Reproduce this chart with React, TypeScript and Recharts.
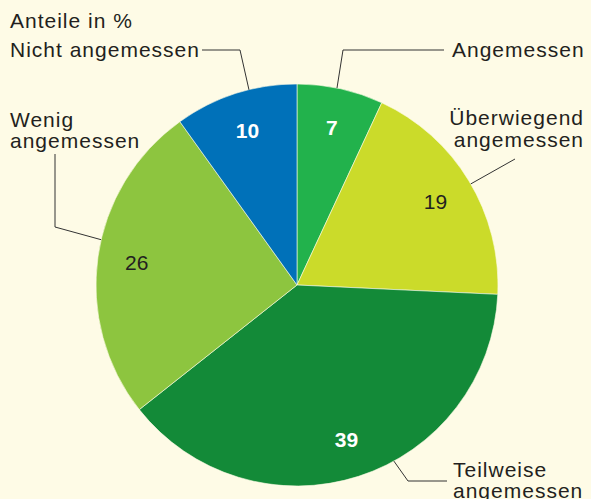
import { PieChart, Pie, Cell } from "recharts";

const categories = [
  "Angemessen",
  "Überwiegend angemessen",
  "Teilweise angemessen",
  "Wenig angemessen",
  "Nicht angemessen",
];
const shares = [7, 19, 39, 26, 10];

const sliceColors = ["#22b24c", "#cbdb2a", "#138a38", "#8dc53f", "#0071b9"];
const valueColors = ["#ffffff", "#231f20", "#ffffff", "#231f20", "#ffffff"];
const valueBold = [true, false, true, false, true];

const BG = "#fefbe6";
const INK = "#231f20";
const FONT = "'Liberation Sans', Arial, sans-serif";
const RAD = Math.PI / 180;

const data = categories.map((name, i) => ({ name, value: shares[i] }));

// leader line / caption layout for each category
type Layout = {
  nudge: number; // degrees, clockwise, where the leader meets the rim
  elbow?: [number, number];
  end: [number, number];
  x: number;
  y: number;
  anchor: "start" | "end";
  wrap: boolean;
  lh: number;
};

const layouts: Record<string, Layout> = {
  Angemessen: { nudge: -1, elbow: [343, 50], end: [444, 50], x: 452, y: 57, anchor: "start", wrap: false, lh: 0 },
  "Überwiegend angemessen": { nudge: 1, end: [515, 159], x: 584, y: 125, anchor: "end", wrap: true, lh: 22 },
  "Teilweise angemessen": { nudge: -11, elbow: [408, 481], end: [447, 481], x: 453, y: 477, anchor: "start", wrap: true, lh: 21 },
  "Wenig angemessen": { nudge: 5, elbow: [55, 227], end: [55, 154], x: 10, y: 127, anchor: "start", wrap: true, lh: 21 },
  "Nicht angemessen": { nudge: 4, elbow: [240, 50], end: [202, 50], x: 10, y: 57, anchor: "start", wrap: false, lh: 0 },
};

const renderLabel = (props: any) => {
  const { cx, cy, midAngle, outerRadius, index, name, value } = props;
  const r = outerRadius * 0.805;
  const vx = cx + r * Math.cos(-midAngle * RAD);
  const vy = cy + r * Math.sin(-midAngle * RAD);

  const lay = layouts[name];
  const a = midAngle - lay.nudge;
  const ex = cx + outerRadius * Math.cos(-a * RAD);
  const ey = cy + outerRadius * Math.sin(-a * RAD);
  const pts = [[ex, ey], ...(lay.elbow ? [lay.elbow] : []), lay.end]
    .map((p) => p.join(","))
    .join(" ");
  const lines = lay.wrap ? name.split(" ") : [name];

  return (
    <g key={`lbl-${index}`}>
      <text
        x={vx}
        y={vy}
        textAnchor="middle"
        dominantBaseline="central"
        fill={valueColors[index]}
        fontSize={valueBold[index] ? 21 : 21}
        fontWeight={valueBold[index] ? 700 : 400}
        fontFamily={FONT}
      >
        {value}
      </text>
      <polyline points={pts} fill="none" stroke="#333333" strokeWidth={1} />
      <text
        x={lay.x}
        y={lay.y}
        textAnchor={lay.anchor}
        fill={INK}
        fontSize={21}
        fontFamily={FONT}
        letterSpacing={1}
      >
        {lines.map((ln: string, k: number) => (
          <tspan key={k} x={lay.x} dy={k === 0 ? 0 : lay.lh}>
            {ln}
          </tspan>
        ))}
      </text>
    </g>
  );
};

export default function App() {
  return (
    <div
      style={{
        position: "absolute",
        left: 0,
        top: 0,
        width: 591,
        height: 499,
        background: BG,
        overflow: "hidden",
      }}
    >
      <PieChart width={591} height={499} margin={{ top: 0, right: 0, bottom: 0, left: 0 }}>
        <text x={10} y={28} fill={INK} fontSize={21} fontFamily={FONT} letterSpacing={1}>
          Anteile in %
        </text>
        <Pie
          data={data}
          dataKey="value"
          nameKey="name"
          cx={297}
          cy={285}
          outerRadius={201}
          startAngle={90}
          endAngle={-270}
          stroke={BG}
          strokeWidth={0.6}
          label={renderLabel}
          labelLine={false}
          isAnimationActive={false}
        >
          {data.map((d, i) => (
            <Cell key={d.name} fill={sliceColors[i]} />
          ))}
        </Pie>
      </PieChart>
    </div>
  );
}
